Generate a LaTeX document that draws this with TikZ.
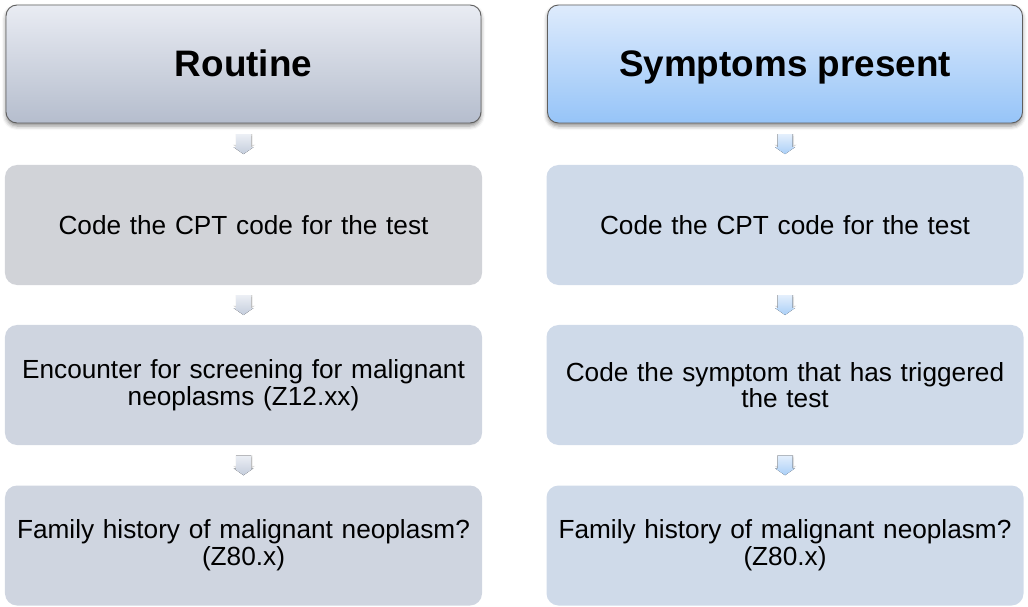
\documentclass[tikz,border=0pt]{standalone}
\usepackage{fontspec}
\setmainfont{Liberation Sans}
\usetikzlibrary{shadows.blur}
\definecolor{hdLtop}{RGB}{233,236,243}
\definecolor{hdLbot}{RGB}{181,189,205}
\definecolor{hdRtop}{RGB}{222,235,252}
\definecolor{hdRbot}{RGB}{150,196,248}
\definecolor{hdborder}{RGB}{95,95,95}
\definecolor{boxLa}{RGB}{209,211,216}
\definecolor{boxLb}{RGB}{207,213,224}
\definecolor{boxR}{RGB}{207,218,233}
\definecolor{arLtop}{RGB}{236,239,245}
\definecolor{arLbot}{RGB}{196,205,220}
\definecolor{arRtop}{RGB}{228,239,252}
\definecolor{arRbot}{RGB}{170,207,247}
\tikzset{
  header/.style={draw=hdborder, line width=0.9bp, rounded corners=11bp,
    minimum width=475bp, minimum height=118bp, inner sep=0pt,
    text height=30bp, text depth=4bp,
    font=\fontsize{37}{40}\selectfont\bfseries, align=center,
    blur shadow={shadow xshift=0bp, shadow yshift=-3bp, shadow blur radius=4bp, shadow opacity=45}},
  headL/.style={header, top color=hdLtop, bottom color=hdLbot},
  headR/.style={header, top color=hdRtop, bottom color=hdRbot},
  stepbox/.style={rounded corners=12bp, minimum width=477bp, minimum height=120bp,
    inner sep=0pt, text width=460bp, align=center,
    font=\fontsize{26.3}{26.8}\selectfont},
  boxstyleLa/.style={stepbox, fill=boxLa},
  boxstyleLb/.style={stepbox, fill=boxLb},
  boxstyleR/.style={stepbox, fill=boxR},
  pics/darrow/.style={code={
    \fill[black, opacity=0.10]
      (-7bp,8bp) -- (8.5bp,8bp) -- (8.5bp,-1bp) -- (11bp,-1bp) -- (0.5bp,-8.5bp) -- (-10bp,-1bp) -- (-7bp,-1bp) -- cycle;
    \fill[black, opacity=0.07]
      (-8bp,10bp) -- (9bp,10bp) -- (9bp,-0.5bp) -- (12bp,-0.5bp) -- (0.5bp,-7.5bp) -- (-11bp,-0.5bp) -- (-8bp,-0.5bp) -- cycle;
    \fill[top color=#1top, bottom color=#1bot]
      (-7.5bp,10bp) -- (7.5bp,10bp) -- (7.5bp,-3bp) -- (10bp,-3bp) -- (0bp,-10bp) -- (-10bp,-3bp) -- (-7.5bp,-3bp) -- cycle;
  }}
}
\begin{document}
\begin{tikzpicture}[x=1bp,y=-1bp]
\useasboundingbox (0,0) rectangle (1028,607);
% left column
\node[headL] (hL) at (243.5,64) {Routine};
\node[boxstyleLa] (L1) at (243.5,225) {Code the CPT code for the test};
\node[boxstyleLb] (L2) at (243.5,385) {Encounter for screening for malignant\\neoplasms (Z12.xx)};
\node[boxstyleLb] (L3) at (243.5,545.5) {Family history of malignant neoplasm?\\(Z80.x)};
% right column
\node[headR] (hR) at (785,64) {Symptoms present};
\node[boxstyleR] (R1) at (785,225) {Code the CPT code for the test};
\node[boxstyleR] (R2) at (785,385) {Code the symptom that has triggered\\the test};
\node[boxstyleR] (R3) at (785,545.5) {Family history of malignant neoplasm?\\(Z80.x)};
% connectors
\path (hL.south) -- (L1.north) pic[pos=0.5] {darrow=arL};
\path (L1.south) -- (L2.north) pic[pos=0.5] {darrow=arL};
\path (L2.south) -- (L3.north) pic[pos=0.5] {darrow=arL};
\path (hR.south) -- (R1.north) pic[pos=0.5] {darrow=arR};
\path (R1.south) -- (R2.north) pic[pos=0.5] {darrow=arR};
\path (R2.south) -- (R3.north) pic[pos=0.5] {darrow=arR};
\end{tikzpicture}
\end{document}
